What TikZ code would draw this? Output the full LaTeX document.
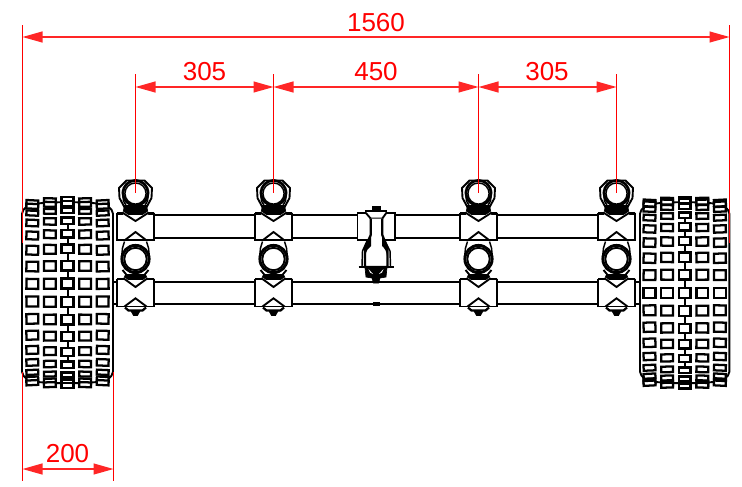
\documentclass[tikz,border=0pt]{standalone}
\usepackage{fontspec}
\setmainfont{Liberation Sans}
\usetikzlibrary{arrows.meta}

\tikzset{
    part/.style={draw=black, line width=1.4pt, fill=white},
    thin part/.style={draw=black, line width=1.1pt},
    tube/.style={draw=black, line width=1.5pt},
    tread/.style={draw=black, line width=1.7pt, fill=white},
    solid part/.style={draw=black, fill=black, line width=0.5pt},
    extline/.style={draw=red, line width=0.95pt},
    dimline/.style={draw=red!85!white, line width=1.05pt, {Triangle[length=15pt,width=8.2pt]}-{Triangle[length=15pt,width=8.2pt]}},
    dimtext/.style={text=red, font=\fontsize{19.5}{20}\selectfont, inner sep=0pt}
}

\begin{document}
\begin{tikzpicture}[x=0.75pt, y=-0.75pt]
    \useasboundingbox (0,0) rectangle (742,486);

    % tyres
    \foreach \tx/\hw/\phase/\kmin/\kmax in {67.5/45.5/5.6/-8/7, 684.7/44.7/0/-8/8} {
        \begin{scope}[shift={(\tx,292.7)}]
            \draw[part] (-\hw,79) -- (-\hw,-79)
                .. controls (-\hw+1,-85) and (-\hw+6,-88) .. (-\hw+14,-89)
                .. controls (-\hw+28,-91) and (\hw-28,-91) .. (\hw-14,-89)
                .. controls (\hw-6,-88) and (\hw-1,-85) .. (\hw,-79)
                -- (\hw,79)
                .. controls (\hw-1,85) and (\hw-6,88) .. (\hw-14,89)
                .. controls (\hw-28,91) and (-\hw+28,91) .. (-\hw+14,89)
                .. controls (-\hw+6,88) and (-\hw+1,85) .. (-\hw,79) -- cycle;
            \draw[tube] (0,-76) -- (0,76);
            \foreach \col/\rad in {-2/90.5, -1/92.5, 0/93.5, 1/92.5, 2/90.5} {
                \foreach \k in {\kmin,...,\kmax} {
                    \pgfmathsetmacro{\ang}{\phase+11.2*\k}
                    \pgfmathsetmacro{\cy}{\rad*sin(\ang)}
                    \pgfmathsetmacro{\hh}{max(2.4,5*cos(\ang))}
                    \pgfmathsetmacro{\tilt}{-\col*1.4*sin(\ang)}
                    \draw[tread, shift={(\col*17.6,\cy)}, rotate=\tilt] (-5.9,-\hh) rectangle (5.9,\hh);
                }
            }
        \end{scope}
    }

    % tubes
    \draw[tube] (154,214.5) -- (598,214.5);
    \draw[tube] (154,238) -- (598,238);
    \draw[tube] (113,281.7) -- (640,281.7);
    \draw[tube] (113,304) -- (640,304);

    % clamps
    \foreach \cx in {135.5,273.5,478.5,616.5} {
        \begin{scope}[shift={(\cx,0)}]
            % upper clamp
            \draw[part] (-16.5,188) -- (-9,180.5) -- (9,180.5) -- (16.5,188) -- (16,198) -- (9,211) -- (-9,211) -- (-16,198) -- cycle;
            \draw[thin part] (-13,190) -- (-12,201) -- (-8,208);
            \draw[thin part] (13,190) -- (12,201) -- (8,208);
            \draw[part, line width=2pt] (0,193) circle (12.6);
            \draw[thin part] (0,193.5) circle (10.6);
            \draw[solid part] (-11,205.5) -- (11,205.5) -- (12.5,212.5) -- (-12.5,212.5) -- cycle;
            \draw[part] (-18.5,214) rectangle (18.5,240);
            \fill[white] (-12.5,211.5) -- (0,219.8) -- (12.5,211.5) -- (12.5,215.5) -- (-12.5,215.5) -- cycle;
            \draw[part, fill=none] (-18.5,213) -- (-12.5,213) -- (0,221) -- (12.5,213) -- (18.5,213);
            \fill[white] (-10.5,238.5) -- (10.5,238.5) -- (0,232.7) -- cycle;
            \draw[part, fill=none] (-10.5,240) -- (0,232) -- (10.5,240);
            % lower clamp
            \draw[thin part] (-11,241.5) -- (-13,248) -- (-14,258);
            \draw[thin part] (11,241.5) -- (13,248) -- (14,258);
            \draw[part] (-13,270) -- (-8,276) -- (8,276) -- (13,270);
            \draw[part, line width=2.2pt] (0,259) circle (13.6);
            \draw[part] (0,259) circle (11.2);
            \draw[solid part] (-10,274.5) -- (10,274.5) -- (12,279) -- (0,284) -- (-12,279) -- cycle;
            \draw[part] (-18.5,279.5) rectangle (18.5,306.5);
            \fill[white] (-11,277.5) -- (0,285.5) -- (11,277.5) -- (11,281) -- (-11,281) -- cycle;
            \draw[part, fill=none] (-18.5,279) -- (-11,279) -- (0,287) -- (11,279) -- (18.5,279);
            \fill[white] (-10,305.5) -- (0,299) -- (10,305.5) -- cycle;
            \draw[part, fill=none] (-11,306.5) -- (0,298.3) -- (11,306.5);
            \draw[part, line width=1.7pt] (-10.5,307.5) -- (-7,310.5) -- (7,310.5) -- (10.5,307.5);
            \draw[solid part] (-4.5,311) -- (4.5,311) -- (2,315.5) -- (-2,315.5) -- cycle;
        \end{scope}
    }

    % swivel in the middle
    \draw[part] (357.5,213) rectangle (395,240);
    \draw[solid part] (372,206.5) rectangle (380,209);
    \fill[white] (366,211) rectangle (386,218);
    \draw[part, line width=1.7pt] (365,211) -- (387,211);
    \draw[part, fill=none] (365,212) -- (370.7,218.5) -- (382.3,218.5) -- (387,212);
    \draw[thin part] (367,241) -- (362.5,251) -- (362,266);
    \draw[thin part] (385,241) -- (390,251) -- (390.5,266);
    \fill[white] (370.7,218.5) rectangle (382.3,237);
    \draw[part, fill=white, line width=1.7pt] (370.7,218.5) -- (370.7,235) -- (365,248) -- (365,267)
        -- (387.5,267) -- (387.5,248) -- (382.3,235) -- (382.3,218.5);
    \fill[black] (365.5,248) -- (371,236) -- (371,246) .. controls (368,248) and (366,251) .. (365.5,256) -- cycle;
    \fill[black] (387,248) -- (382,236) -- (382,246) .. controls (384.5,248) and (386.5,251) .. (387,256) -- cycle;
    \draw[solid part] (365,267.5) -- (387,267.5) -- (386,277) -- (380,278) -- (378.5,283) -- (373.5,283) -- (372,278) -- (366,277) -- cycle;
    \fill[white] (368.5,269) -- (373,274) -- (370,272.5) -- cycle;
    \fill[white] (383.5,269) -- (379,274) -- (382,272.5) -- cycle;
    \draw[black, line width=1.7pt] (358.5,267) -- (393.5,267);
    \draw[solid part] (373,302.8) rectangle (379,305.2);

    % dimensions
    \coordinate (a1) at (22.5,25);
    \coordinate (a2) at (22.5,243);
    \coordinate (a3) at (22.5,37);
    \coordinate (b1) at (729.5,25);
    \coordinate (b2) at (729.5,243);
    \coordinate (b3) at (729.5,37);
    \coordinate (c1) at (135.5,74);
    \coordinate (c2) at (135.5,193);
    \coordinate (c3) at (135.5,87);
    \coordinate (d1) at (273.5,74);
    \coordinate (d2) at (273.5,193);
    \coordinate (d3) at (273.5,87);
    \coordinate (e1) at (478.5,74);
    \coordinate (e2) at (478.5,193);
    \coordinate (e3) at (478.5,87);
    \coordinate (f1) at (616.5,74);
    \coordinate (f2) at (616.5,193);
    \coordinate (f3) at (616.5,87);
    \coordinate (g1) at (22.5,372);
    \coordinate (g2) at (22.5,481);
    \coordinate (g3) at (22.5,469);
    \coordinate (h1) at (113.5,372);
    \coordinate (h2) at (113.5,481);
    \coordinate (h3) at (113.5,469);

    \foreach \p/\q in {a1/a2,b1/b2,c1/c2,d1/d2,e1/e2,f1/f2,g1/g2,h1/h2} {
        \draw[extline] (\p) -- (\q);
    }
    \draw[dimline] (a3) -- (b3);
    \draw[dimline] (c3) -- (d3);
    \draw[dimline] (d3) -- (e3);
    \draw[dimline] (e3) -- (f3);
    \draw[dimline] (g3) -- (h3);

    \node[dimtext] (overall) at (376,22.5) {1560};
    \node[dimtext] (left305) at (204.5,72) {305};
    \node[dimtext] (mid450) at (376,72) {450};
    \node[dimtext] (right305) at (547,72) {305};
    \node[dimtext] (wheel200) at (67.5,454) {200};
\end{tikzpicture}
\end{document}
